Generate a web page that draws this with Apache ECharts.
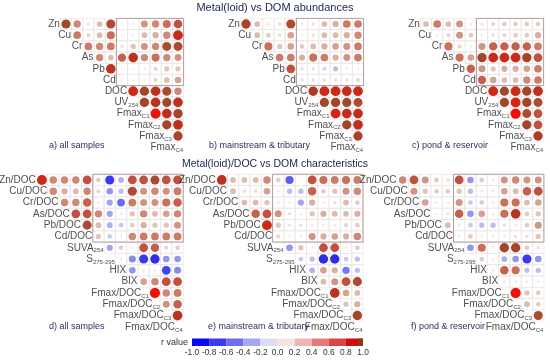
<!DOCTYPE html>
<html><head><meta charset="utf-8">
<script src="https://cdn.jsdelivr.net/npm/echarts@6/dist/echarts.min.js"></script>
<style>html,body{margin:0;padding:0;background:#fff}#c{width:550px;height:361px}</style>
</head><body><div id="c"></div>
<script>
// ---------- labels ----------
const topLabels = ['Zn','Cu','Cr','As','Pb','Cd','DOC','UV|254','Fmax|C1','Fmax|C2','Fmax|C3','Fmax|C4'];
const bottomLabels = ['Zn/DOC','Cu/DOC','Cr/DOC','As/DOC','Pb/DOC','Cd/DOC','SUVA|254','S|275-295','HIX','BIX','Fmax/DOC|C1','Fmax/DOC|C2','Fmax/DOC|C3','Fmax/DOC|C4'];
const panelTitles = ['a) all samples','b) mainstream & tributary','c) pond & reservoir','d) all samples','e) mainstream & tributary','f) pond & reservoir'];
const colorbarTicks = [-1.0,-0.8,-0.6,-0.4,-0.2,0.0,0.2,0.4,0.6,0.8,1.0];

// ---------- r values (upper triangle, row i holds columns i+1..n-1) ----------
const rTopAll = [
 [0.78,0.5,0.08,0.3,0.75,0.03,0.05,0.45,0.5,0.6,0.7],
 [0.55,0.15,0.3,0.6,0.04,0.05,0.3,0.35,0.5,0.88],
 [0.55,0.5,0.55,0.1,0.25,0.45,0.5,0.75,0.75],
 [0.5,0.3,0.65,0.85,0.5,0.6,0.5,0.45],
 [0.85,0.04,0.04,0.05,0.15,0.25,0.25],
 [0.04,0.04,0.05,0.15,0.3,0.4],
 [0.88,0.8,0.85,0.75,0.5],
 [0.8,0.85,0.78,0.85],
 [0.95,0.87,0.8],
 [0.8,0.87],
 [0.8]
];
const rTopMain = [
 [0.8,0.3,0.08,0.1,0.75,0.06,0.1,0.3,0.35,0.55,0.55],
 [0.3,0.2,0.1,0.4,0.05,0.1,0.3,0.3,0.35,0.5],
 [0.6,0.25,0.4,0.2,0.3,0.35,0.4,0.45,0.55],
 [0.55,0.55,0.35,0.6,0.55,0.35,0.45,0.55],
 [0.7,-0.1,-0.1,-0.15,-0.25,-0.05,0.05],
 [-0.1,-0.1,0.1,0.1,0.1,0.15],
 [0.82,0.88,0.88,0.87,0.87],
 [0.78,0.8,0.78,0.75],
 [0.9,0.87,0.87],
 [0.8,0.87],
 [0.8]
];
const rTopPond = [
 [0.3,0.55,0.3,0.45,0.05,0.08,0.15,0.2,0.2,0.2,0.2],
 [0.05,0.15,0.45,0.2,0.05,0.1,0.15,0.2,0.2,0.35],
 [0.6,0.15,0.05,0.45,0.65,0.65,0.65,0.65,0.55],
 [0.6,0.4,0.8,0.88,0.88,0.88,0.8,0.7],
 [0.65,0.45,0.25,0.35,0.35,0.4,0.55],
 [0.65,0.4,0.3,0.3,0.5,0.55],
 [0.88,0.78,0.88,0.8,0.87],
 [0.78,0.9,0.8,0.75],
 [0.97,0.75,0.7],
 [0.8,0.7],
 [0.82]
];
const rBottomAll = [
 [0.88,0.5,0.5,0.5,0.7,0.2,-0.75,-0.3,0.7,0.7,0.75,0.7,0.7],
 [0.5,0.35,0.3,0.5,0.15,-0.4,-0.25,0.75,0.45,0.5,0.45,0.55],
 [0.5,0.5,0.65,0.05,-0.35,-0.55,0.55,0.45,0.45,0.6,0.65],
 [0.7,0.7,0.5,-0.35,0.05,0.25,0.5,0.3,0.4,0.5],
 [0.75,0.3,-0.3,-0.2,0.2,0.35,0.25,0.25,0.45],
 [0.25,-0.2,0.05,0.5,0.55,0.55,0.55,0.55],
 [-0.35,0.2,0.05,0.7,0.65,0.15,0.2],
 [0.05,-0.45,-0.75,-0.8,-0.4,-0.4],
 [-0.4,0.05,0.05,-0.7,-0.45],
 [0.4,0.5,0.7,0.7],
 [0.95,0.5,0.55],
 [0.45,0.65],
 [0.85]
];
const rBottomMain = [
 [0.85,0.3,0.3,0.3,0.5,0.2,-0.6,0.02,0.7,0.6,0.55,0.6,0.55],
 [0.3,0.1,0.1,0.4,0.05,-0.25,-0.25,0.65,0.2,0.25,0.45,0.5],
 [0.3,0.3,0.25,0.05,0.05,-0.35,0.35,0.05,0.1,0.3,0.2],
 [0.65,0.7,0.45,-0.1,0.05,0.25,0.35,0.3,0.3,0.35],
 [0.88,0.25,0.08,0.1,0.05,0.05,0.05,0.15,0.2],
 [0.15,0.05,0.05,0.45,0.35,0.4,0.35,0.5],
 [-0.4,0.25,0.05,0.7,0.7,0.05,0.2],
 [-0.2,-0.25,-0.8,-0.8,-0.2,-0.25],
 [-0.3,0.4,0.35,-0.5,-0.25],
 [0.3,0.45,0.7,0.75],
 [0.85,0.4,0.3],
 [0.25,0.35],
 [0.8]
];
const rBottomPond = [
 [0.5,0.7,0.45,0.2,0.1,0.7,-0.4,0.2,0.05,0.45,0.5,0.45,0.45],
 [0.45,0.25,0.2,0.2,0.25,-0.25,0.05,0.05,0.4,0.3,0.65,0.7],
 [0.4,0.05,0.05,0.45,-0.2,0.2,0.05,0.6,0.6,0.3,0.4],
 [0.05,0.1,0.65,-0.4,0.4,0.05,0.6,0.85,0.2,0.25],
 [0.3,0.05,-0.2,-0.25,-0.25,-0.1,0.05,0.2,0.45],
 [0.05,0.2,0.05,0.05,0.05,0.1,0.1,0.25],
 [-0.4,0.6,0.05,0.8,0.8,0.2,0.1],
 [0.2,0.05,-0.3,-0.4,-0.75,-0.4],
 [0.05,0.65,0.6,-0.25,-0.25],
 [0.05,-0.05,0.05,0.05],
 [0.95,0.25,0.2],
 [0.3,0.2],
 [0.75]
];

// ---------- styles ----------
const FONT = '"Liberation Sans", Arial, sans-serif';
const posStops = [[0,'#f3eeee'],[0.15,'#e8d4ce'],[0.3,'#dcbcb0'],[0.45,'#cf9584'],[0.6,'#c8705a'],[0.7,'#c05040'],[0.78,'#9c4a2c'],[0.85,'#b8341f'],[0.92,'#e01c14'],[1,'#ff0000']];
const negStops = [[0,'#eeeef6'],[0.15,'#d4d4f3'],[0.3,'#b0b0f0'],[0.45,'#8888ee'],[0.6,'#5c5cec'],[0.8,'#2c2cee'],[1,'#0000ff']];
function hex(c){return [parseInt(c.slice(1,3),16),parseInt(c.slice(3,5),16),parseInt(c.slice(5,7),16)];}
function colorFor(r){
  const stops = r >= 0 ? posStops : negStops; const a = Math.min(1, Math.abs(r));
  for (let k = 1; k < stops.length; k++) {
    if (a <= stops[k][0]) {
      const t = (a - stops[k-1][0]) / (stops[k][0] - stops[k-1][0]);
      const c0 = hex(stops[k-1][1]), c1 = hex(stops[k][1]);
      return 'rgb(' + c0.map((v,i)=>Math.round(v + (c1[i]-v)*t)).join(',') + ')';
    }
  }
  return stops[stops.length-1][1];
}
const binColors = ['#0a0af0','#3c3cec','#6e6ef0','#a6a6f2','#dcdcf6','#f6e2e2','#eeb6b6','#e27a7a','#da4444','#cc1010','#8a3c10'];

const panels = [
  {rows: rTopAll, labels: topLabels, left: 49.2, top: 18.4, cell: 11.2},
  {rows: rTopMain, labels: topLabels, left: 229.2, top: 18.4, cell: 11.2},
  {rows: rTopPond, labels: topLabels, left: 409.2, top: 18.4, cell: 11.2},
  {rows: rBottomAll, labels: bottomLabels, left: 25.0, top: 174.3, cell: 11.3},
  {rows: rBottomMain, labels: bottomLabels, left: 204.8, top: 174.3, cell: 11.3},
  {rows: rBottomPond, labels: bottomLabels, left: 385.7, top: 174.3, cell: 11.3}
];
const titlePos = [[49,141],[209,141],[412,141],[49,322],[208,322],[411,322]];

const grid = [], xAxis = [], yAxis = [], series = [];
panels.forEach((p, k) => {
  const n = p.labels.length;
  grid.push({left: p.left, top: p.top, width: n*p.cell, height: n*p.cell});
  xAxis.push({type:'value', gridIndex:k, min:-0.5, max:n-0.5, show:false});
  yAxis.push({type:'value', gridIndex:k, min:-0.5, max:n-0.5, inverse:true, show:false});
  const cells = [], pts = [];
  p.rows.forEach((row, i) => row.forEach((r, m) => {
    const j = i + 1 + m;
    cells.push([j, i]);
    pts.push([j, i, r]);
  }));
  series.push({
    type:'custom', xAxisIndex:k, yAxisIndex:k, silent:true, data: cells,
    renderItem: (params, api) => {
      const a = api.coord([api.value(0)-0.5, api.value(1)-0.5]);
      const s = api.size([1,1]);
      return {type:'rect', shape:{x:a[0], y:a[1], width:s[0], height:s[1]}, style:{fill:'none', stroke:'#e9e2e2', lineWidth:0.6}};
    }
  });
  series.push({
    type:'custom', xAxisIndex:k, yAxisIndex:k, silent:true, data: [[5.5, -0.5, n-0.5, 5.5]],
    renderItem: (params, api) => {
      const a = api.coord([api.value(0), api.value(1)]);
      const b = api.coord([api.value(2), api.value(3)]);
      return {type:'rect', z2: 5, shape:{x:a[0], y:a[1], width:b[0]-a[0], height:b[1]-a[1]}, style:{fill:'none', stroke:'#b59c9c', lineWidth:1}};
    }
  });
  const cell = p.cell;
  series.push({
    type:'scatter', xAxisIndex:k, yAxisIndex:k, silent:true, data: pts, z: 3,
    symbolSize: v => cell*0.93*Math.sqrt(Math.abs(v[2])),
    itemStyle: {color: prm => colorFor(prm.data[2]), opacity: 1}
  });
  series.push({
    type:'scatter', xAxisIndex:k, yAxisIndex:k, silent:true, z: 4,
    data: p.labels.map((l, i) => [i, i, l]),
    symbolSize: 1, itemStyle: {color: 'rgba(0,0,0,0)'},
    label: {
      show: true, position: 'left', distance: 0, offset: [cell*0.5, 0],
      formatter: prm => { const s = prm.data[2].split('|'); return s.length > 1 ? '{m|' + s[0] + '}{s|' + s[1] + '}' : '{m|' + s[0] + '}'; },
      rich: {
        m: {fontSize: 10, fontFamily: FONT, color: '#222'},
        s: {fontSize: 6, fontFamily: FONT, color: '#222', padding: [6, 0, 0, 0]}
      }
    }
  });
});

// colorbar
const cbK = panels.length;
const colorbarBins = [[-1,-0.8],[-0.8,-0.6],[-0.6,-0.4],[-0.4,-0.2],[-0.2,0],[0,0.2],[0.2,0.4],[0.4,0.6],[0.6,0.8],[0.8,1.0],[0.95,1.0]];
grid.push({left: 192, top: 338.5, width: 171, height: 7.5});
xAxis.push({type:'value', gridIndex:cbK, min:-1, max:1, interval:0.2,
  axisLine:{show:false}, axisTick:{show:false}, splitLine:{show:false},
  axisLabel:{fontSize:8.4, fontFamily:FONT, color:'#333', margin:3,
    formatter: v => (Math.abs(v) < 1e-9 ? 0 : v).toFixed(1)}});
yAxis.push({type:'value', gridIndex:cbK, min:0, max:1, show:false});
series.push({
  type:'custom', xAxisIndex:cbK, yAxisIndex:cbK, silent:true,
  data: colorbarBins.map((b, i) => [b[0], b[1], i]),
  renderItem: (params, api) => {
    const a = api.coord([api.value(0), 1]);
    const b = api.coord([api.value(1), 0]);
    return {type:'rect', shape:{x:a[0], y:a[1], width:b[0]-a[0], height:b[1]-a[1]}, style:{fill: binColors[api.value(2)]}};
  }
});

const title = [
  {text:'Metal(loid) vs DOM abundances', left:'center', top:2, padding:0, textStyle:{fontSize:11, fontWeight:'normal', color:'#1c2452', fontFamily:FONT}},
  {text:'Metal(loid)/DOC vs DOM characteristics', left:'center', top:159, padding:0, textStyle:{fontSize:10.5, fontWeight:'normal', color:'#1c2452', fontFamily:FONT}}
];
panelTitles.forEach((t, k) => title.push({text:t, left:titlePos[k][0], top:titlePos[k][1], padding:0, textStyle:{fontSize:9, fontWeight:'normal', color:'#2a3060', fontFamily:FONT}}));

const chart = echarts.init(document.getElementById('c'), null, {renderer:'canvas'});
chart.setOption({
  animation: false,
  backgroundColor: '#ffffff',
  title, grid, xAxis, yAxis, series,
  graphic: [{type:'text', x:188, y:342.5, style:{text:'r value', align:'right', verticalAlign:'middle', fontSize:9, fontFamily:FONT, fill:'#333'}}]
});
</script></body></html>
